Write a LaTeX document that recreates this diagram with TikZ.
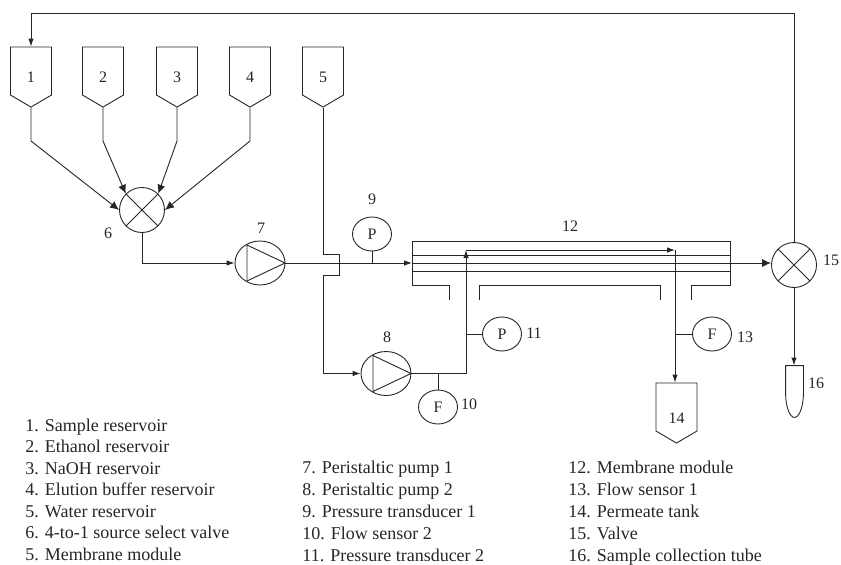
\documentclass[tikz,border=0pt]{standalone}
\usepackage{fontspec}
\setmainfont{Liberation Serif}
\usetikzlibrary{arrows.meta,calc,shapes.geometric,shapes.symbols}

\begin{document}
\begin{tikzpicture}[x=1pt, y=-1pt, font=\fontsize{16}{22}\selectfont, line width=.9pt, color=black!85,
  tank/.style={draw, signal, signal from=nowhere, signal to=south, signal pointer angle=119, minimum width=41pt, minimum height=48pt, inner sep=0pt, label={[yshift=-6pt]center:#1}},
  valve/.style={draw, circle, minimum size=45pt, inner sep=0pt, path picture={\draw (path picture bounding box.north west) -- (path picture bounding box.south east) (path picture bounding box.north east) -- (path picture bounding box.south west);}},
  pump/.style={draw, ellipse, minimum width=50pt, minimum height=44pt, inner sep=0pt, path picture={\draw (path picture bounding box.center) ++(-13,-18) -- ++(0,36) -- ++(38,-18) -- cycle;}},
  sensor/.style={draw, ellipse, minimum width=39pt, minimum height=34pt, inner sep=0pt},
  tube/.style={minimum width=17pt, minimum height=51pt, inner sep=0pt},
  legend/.style={align=left, anchor=north west, inner sep=0pt, font=\fontsize{18}{22}\selectfont},
  arrow/.style={-{Latex[length=8pt,width=5.5pt]}},
  bigarrow/.style={-{Latex[length=9pt,width=8pt]}}]
\useasboundingbox (0,0) rectangle (841,565);

% reservoirs
\node[tank=1] (t1) at (31,71) {};
\node[tank=2] (t2) at (103,71) {};
\node[tank=3] (t3) at (177,71) {};
\node[tank=4] (t4) at (250,71) {};
\node[tank=5] (t5) at (323,71) {};
\node[tank={}, label={[yshift=-11pt]center:14}] (t14) at (676.5,407) {};

% valves, pumps, sensors
\node[valve] (v6) at (142,210) {};
\node[valve] (v15) at (794,265) {};
\node[pump] (p7) at (260,263) {};
\node[pump] (p8) at (386,373.5) {};
\node[sensor] (s9) at (372,234) {P};
\node[sensor] (s11) at (502,334) {P};
\node[sensor] (s10) at (438,407) {F};
\node[sensor] (s13) at (712,334) {F};
\node[tube] (tube) at (794.5,391.5) {};

% bends
\coordinate (b1) at (31,141);
\coordinate (b2) at (103,141);
\coordinate (b3) at (177,141);
\coordinate (b4) at (250,141);
\coordinate (top1) at (31,13);
\coordinate (top15) at (794,13);
\coordinate (mod) at (412,263);
\coordinate (perm) at (466,250);
\coordinate (permend) at (675,250);

% membrane module
\draw (449,300) -- (449,285) -- (412,285) -- (412,241) -- (730,241) -- (730,285) -- (691,285) -- (691,300);
\draw (479,300) -- (479,285) -- (660,285) -- (660,300);
\draw (412,255.5) -- (730,255.5);
\draw (412,271.5) -- (730,271.5);

% connectors
\draw[arrow] (v15.north) -- (top15) -- (top1) -- (t1.north);
\draw[bigarrow] (t1.south) -- (b1) -- (v6.west);
\draw[bigarrow] (t2.south) -- (b2) -- (v6.135);
\draw[bigarrow] (t3.south) -- (b3) -- (v6.45);
\draw[bigarrow] (t4.south) -- (b4) -- (v6.east);
\draw[arrow] (v6.south) |- (p7.west);
\draw[arrow] (p7.east) -- (mod);
\draw[bigarrow] (mod) -- (mod -| v15.west);
\draw[arrow] (t5.south) -- (323,254) -- (339,254) -- (339,275.5) -- (323,275.5) |- (p8.west);
\draw[arrow] (p8.east) -| (perm);
\draw[arrow] (perm) -- (permend);
\draw[arrow] (permend) -- (t14.north -| permend);
\draw[arrow] (v15.south) -- (tube.north -| v15.south);
\draw (s9.south) -- (372,263);
\draw (s11.west) -- (466,334);
\draw (s10.north) -- (438,373.5);
\draw (s13.west) -- (675,334);

% sample tube
\draw (tube.north west) -- (tube.north east) -- ($(tube.north east)+(0,27)$) .. controls ($(tube.north east)+(0,42)$) and ($(tube.south)+(4.5,0)$) .. (tube.south) .. controls ($(tube.south)+(-4.5,0)$) and ($(tube.north west)+(0,42)$) .. ($(tube.north west)+(0,27)$) -- cycle;

% labels
\node (l6) at (108,233) {6};
\node (l7) at (261,228) {7};
\node (l8) at (387,337) {8};
\node (l9) at (372,199) {9};
\node (l10) at (469,404) {10};
\node (l11) at (534,333) {11};
\node (l12) at (570,226) {12};
\node (l13) at (745,337) {13};
\node (l15) at (831,260) {15};
\node (l16) at (816,383) {16};

% legend
\node[legend, font=\fontsize{18}{21.5}\selectfont] (key1) at (25,418.5) {1. Sample reservoir\\2. Ethanol reservoir\\3. NaOH reservoir\\4. Elution buffer reservoir\\5. Water reservoir\\6. 4-to-1 source select valve\\5. Membrane module};
\node[legend] (key2) at (302,461) {7. Peristaltic pump 1\\8. Peristaltic pump 2\\9. Pressure transducer 1\\10. Flow sensor 2\\11. Pressure transducer 2};
\node[legend] (key3) at (568,461) {12. Membrane module\\13. Flow sensor 1\\14. Permeate tank\\15. Valve\\16. Sample collection tube};
\end{tikzpicture}
\end{document}
